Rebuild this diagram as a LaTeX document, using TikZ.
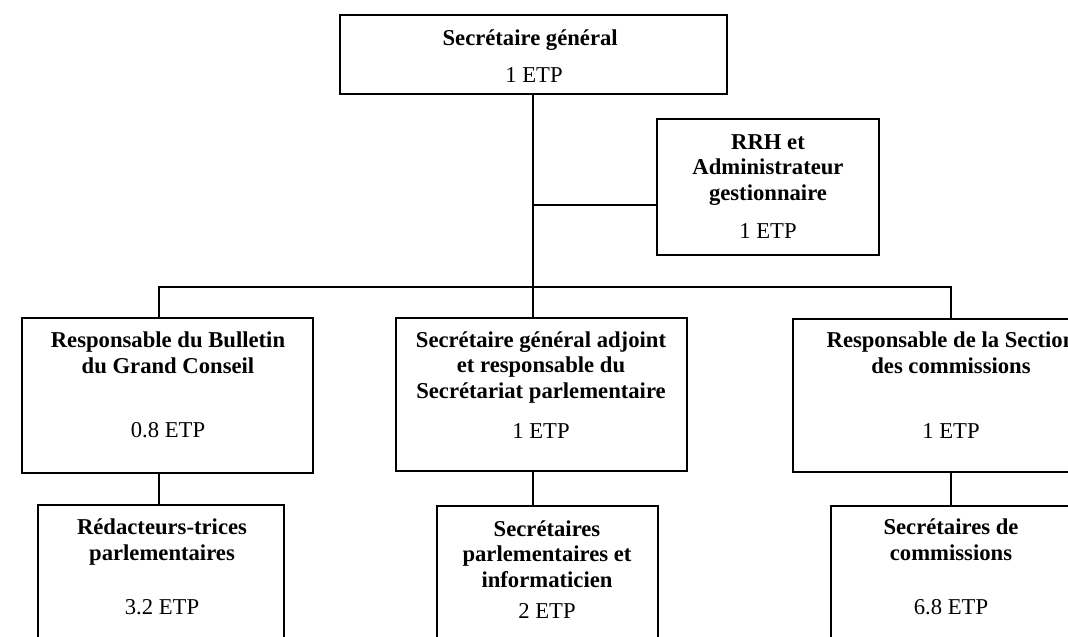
\documentclass[tikz,border=0pt]{standalone}
\usepackage{fontspec}
\setmainfont{Liberation Serif}
\usetikzlibrary{positioning}

\begin{document}
\begin{tikzpicture}[x = 0.75pt, y = -0.75pt, line width = 1pt,
    every node/.style = { inner sep = 0pt, font = \fontsize{17}{19}\selectfont },
    box/.style = { draw, shape = rectangle },
    title/.style = { align = center, anchor = base, font = \fontsize{17}{19}\selectfont\bfseries },
    etp/.style = { anchor = base }]
  \path[use as bounding box, clip] (0,0) rectangle (1068,636);

  \node [box, minimum width = 290.25pt, minimum height = 59.25pt] (sg) at (533.5,54.5) {};
  \node [box, minimum width = 166.5pt, minimum height = 102pt] (rrh) at (768,187) {};
  \node [box, minimum width = 218.25pt, minimum height = 116.25pt] (bulletin) at (167.5,395.5) {};
  \node [box, minimum width = 218.25pt, minimum height = 114.75pt] (adjoint) at (541.5,394.5) {};
  \node [box, minimum width = 237pt, minimum height = 114.75pt] (section) at (951,395.5) {};
  \node [box, minimum width = 184.5pt, minimum height = 120pt] (redac) at (161,585) {};
  \node [box, minimum width = 165.75pt, minimum height = 119.25pt] (secparl) at (547.5,585.5) {};
  \node [box, minimum width = 180pt, minimum height = 119.25pt] (seccom) at (951,585.5) {};

  \node [title] (sgt) at (533,45) { Secrétaire général };
  \node [etp] (sge) at (534,82) { 1 ETP };
  \node [title] (rrht) at (768,200) { RRH et \\ Administrateur \\ gestionnaire };
  \node [etp] (rrhe) at (768,238) { 1 ETP };
  \node [title] (bulletint) at (168,373) { Responsable du Bulletin \\ du Grand Conseil };
  \node [etp] (bulletine) at (168,437) { 0.8 ETP };
  \node [title] (adjointt) at (541,398) { Secrétaire général adjoint \\ et responsable du \\ Secrétariat parlementaire };
  \node [etp] (adjointe) at (541,438) { 1 ETP };
  \node [title] (sectiont) at (951,373) { Responsable de la Section \\ des commissions };
  \node [etp] (sectione) at (951,438) { 1 ETP };
  \node [title] (redact) at (162,560) { Rédacteurs-trices \\ parlementaires };
  \node [etp] (redace) at (162,614) { 3.2 ETP };
  \node [title] (secparlt) at (547,587) { Secrétaires \\ parlementaires et \\ informaticien };
  \node [etp] (secparle) at (547,618) { 2 ETP };
  \node [title] (seccomt) at (951,560) { Secrétaires de \\ commissions };
  \node [etp] (seccome) at (951,614) { 6.8 ETP };

  \coordinate (rrhin) at (657,205);
  \coordinate (busl) at (159,287);
  \coordinate (busr) at (951,287);
  \coordinate (trunk) at (533,287);

  \draw (sg.south -| trunk) -- (adjoint.north -| trunk);
  \draw (rrhin -| trunk) -- (rrhin);
  \draw (bulletin.north -| busl) -- (busl) -- (busr) -- (section.north);
  \draw (bulletin.south -| busl) -- (redac.north -| busl);
  \draw (adjoint.south -| trunk) -- (secparl.north -| trunk);
  \draw (section.south) -- (seccom.north);
\end{tikzpicture}
\end{document}
